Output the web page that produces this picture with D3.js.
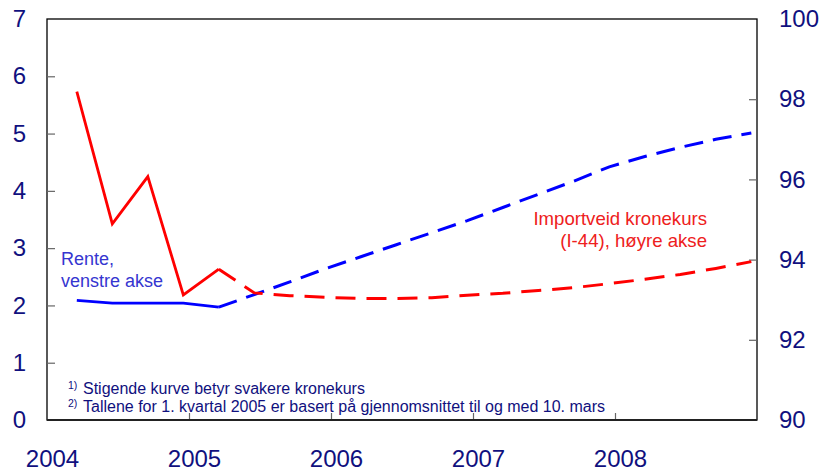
<!DOCTYPE html>
<meta charset="utf-8">
<script src="https://d3js.org/d3.v7.min.js"></script>
<style>
  body { margin: 0; background: #fff; }
  text { font-family: "Liberation Sans", Arial, sans-serif; }
</style>
<div id="chart"></div>
<script>

    // Quarters shown on the chart
    var quarters = ["2004Q1","2004Q2","2004Q3","2004Q4",
                    "2005Q1","2005Q2","2005Q3","2005Q4",
                    "2006Q1","2006Q2","2006Q3","2006Q4",
                    "2007Q1","2007Q2","2007Q3","2007Q4",
                    "2008Q1","2008Q2","2008Q3","2008Q4"]

    // Rente (venstre akse), prosent
    var rente = [2.09, 2.04, 2.04, 2.04,
                 1.97, 2.19, 2.41, 2.64,
                 2.85, 3.06, 3.27, 3.48,
                 3.71, 3.94, 4.17, 4.42,
                 4.60, 4.76, 4.90, 5.01]

    // Importveid kronekurs I-44 (hoyre akse)
    var kronekurs = [98.19, 94.89, 96.07, 93.12,
                     93.76, 93.17, 93.10, 93.06,
                     93.03, 93.03, 93.05, 93.11,
                     93.16, 93.23, 93.30, 93.40,
                     93.51, 93.63, 93.78, 93.95]

    // Projections start here (dashed from this quarter on)
    var projStart = "2005Q1"

    // Axis ticks
    var leftTicks = [0, 1, 2, 3, 4, 5, 6, 7]
    var rightTicks = [90, 92, 94, 96, 98, 100]
    var yearTicks = [2004, 2005, 2006, 2007, 2008]

    var footnotes = [
        ["1)", "Stigende kurve betyr svakere kronekurs"],
        ["2)", "Tallene for 1. kvartal 2005 er basert på gjennomsnittet til og med 10. mars"]
    ]

    var width = 825, height = 475
    var plot = {left: 47, right: 757, top: 19, bottom: 420}
    var navy = "#10107e"

    var svg = d3.select("#chart")
      .append("svg")
        .attr("width", width)
        .attr("height", height)

    // ----------------- //
    // Scales
    // ----------------- //
    var x = d3.scaleLinear()
        .domain([2004, 2009])
        .range([plot.left, plot.right])

    var yLeft = d3.scaleLinear()
        .domain([0, 7])
        .range([plot.bottom, plot.top])

    var yRight = d3.scaleLinear()
        .domain([90, 100])
        .range([plot.bottom, plot.top])

    // quarter "2005Q3" -> decimal year (points sit a bit after quarter start)
    function qTime(q) {
        return +q.slice(0, 4) + (+q.slice(5) - 1) / 4 + 0.21
    }

    // Frame
    svg.append("rect")
        .attr("x", plot.left)
        .attr("y", plot.top)
        .attr("width", plot.right - plot.left)
        .attr("height", plot.bottom - plot.top)
        .attr("fill", "none")
        .attr("stroke", "#000")
        .attr("stroke-width", 1.3)

    // Inner tick marks
    svg.append("g")
        .attr("transform", "translate(" + plot.left + ",0)")
        .call(d3.axisRight(yLeft).tickValues(leftTicks.slice(1, -1)).tickSize(8).tickFormat(""))
        .call(function(g) { g.select(".domain").remove() })
        .selectAll("line").attr("stroke", "#666").attr("stroke-width", 1.2)

    svg.append("g")
        .attr("transform", "translate(" + plot.right + ",0)")
        .call(d3.axisLeft(yRight).tickValues(rightTicks.slice(1, -1)).tickSize(8).tickFormat(""))
        .call(function(g) { g.select(".domain").remove() })
        .selectAll("line").attr("stroke", "#666").attr("stroke-width", 1.2)

    svg.append("g")
        .attr("transform", "translate(0," + plot.bottom + ")")
        .call(d3.axisTop(x).tickValues(yearTicks.slice(1)).tickSize(7).tickFormat(""))
        .call(function(g) { g.select(".domain").remove() })
        .selectAll("line").attr("stroke", "#666").attr("stroke-width", 1.2)

    // thicker bottom line
    svg.append("line")
        .attr("x1", plot.left).attr("x2", plot.right)
        .attr("y1", plot.bottom).attr("y2", plot.bottom)
        .attr("stroke", "#222").attr("stroke-width", 2)

    // Tick labels
    function styleLabels(g) {
        g.select(".domain").remove()
        g.selectAll("text")
            .attr("fill", navy)
            .style("font-size", "24px")
            .style("font-family", "'Liberation Sans', Arial, sans-serif")
    }

    svg.append("g")
        .attr("transform", "translate(" + plot.left + ",0)")
        .call(d3.axisLeft(yLeft).tickValues(leftTicks).tickSize(0).tickPadding(21).tickFormat(d3.format("d")))
        .call(styleLabels)

    svg.append("g")
        .attr("transform", "translate(" + plot.right + ",0)")
        .call(d3.axisRight(yRight).tickValues(rightTicks).tickSize(0).tickPadding(22).tickFormat(d3.format("d")))
        .call(styleLabels)

    svg.append("g")
        .attr("transform", "translate(5," + plot.bottom + ")")
        .call(d3.axisBottom(x).tickValues(yearTicks).tickSize(0).tickPadding(30).tickFormat(d3.format("d")))
        .call(styleLabels)

    // ----------------- //
    // Lines
    // ----------------- //
    var cut = quarters.indexOf(projStart)

    function drawSeries(values, yScale, color, dash) {
        var pts = quarters.map(function(q, i) { return [x(qTime(q)), yScale(values[i])] })
        var line = d3.line()
        svg.append("path")
            .attr("d", line(pts.slice(0, cut + 1)))
            .attr("fill", "none")
            .attr("stroke", color)
            .attr("stroke-width", 2.8)
            .attr("stroke-linejoin", "miter")
        svg.append("path")
            .attr("d", line(pts.slice(cut)))
            .attr("fill", "none")
            .attr("stroke", color)
            .attr("stroke-width", 3)
            .attr("stroke-dasharray", dash)
    }

    drawSeries(rente, yLeft, "#0000ff", "19,10")
    drawSeries(kronekurs, yRight, "#ff0000", "20,11")

    // ----------------- //
    // Labels
    // ----------------- //
    var renteLabel = svg.append("text")
        .attr("x", 61).attr("y", 265)
        .attr("fill", "#3535d0")
        .style("font-size", "18px")
    renteLabel.append("tspan").attr("x", 61).text("Rente,")
    renteLabel.append("tspan").attr("x", 61).attr("dy", 22).text("venstre akse")

    var kursLabel = svg.append("text")
        .attr("x", 707).attr("y", 225)
        .attr("fill", "#ee2020")
        .attr("text-anchor", "end")
        .style("font-size", "18.6px")
    kursLabel.append("tspan").attr("x", 707).text("Importveid kronekurs")
    kursLabel.append("tspan").attr("x", 707).attr("dy", 22).text("(I-44), høyre akse")

    // Footnotes
    footnotes.forEach(function(f, i) {
        var t = svg.append("text")
            .attr("x", 68).attr("y", 394 + i * 18)
            .attr("fill", navy)
            .style("font-size", "16px")
        t.append("tspan").attr("dy", -5).style("font-size", "10.5px").text(f[0])
        t.append("tspan").attr("x", 83).attr("dy", 5).text(f[1])
    })

</script>
